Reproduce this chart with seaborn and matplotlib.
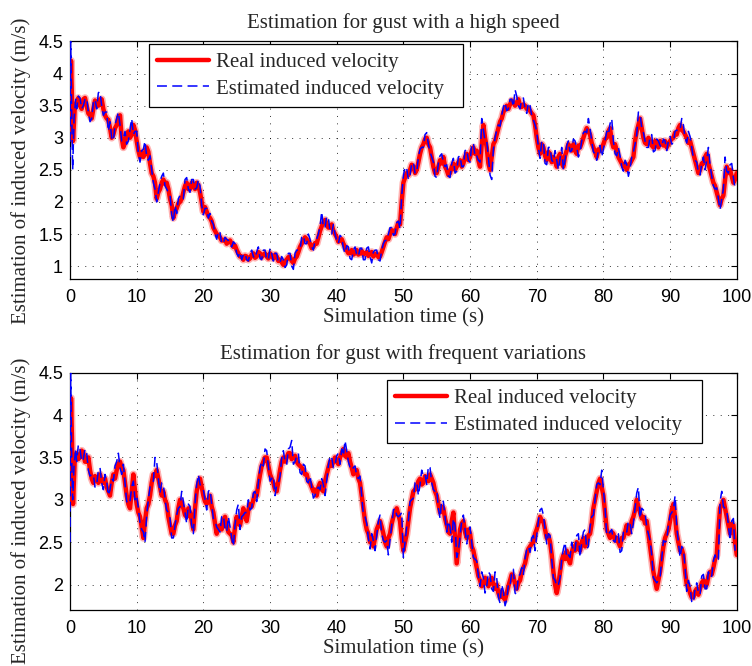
import numpy as np
import pandas as pd
import matplotlib
matplotlib.use("Agg")
import matplotlib.pyplot as plt
import seaborn as sns

# ---------------- data ----------------
# Gust with a high speed: real induced velocity (m/s)
hs_real_t_head = [0.0, 0.15, 0.3, 0.45, 0.7]
hs_real_head = [3.0, 4.2, 3.6, 2.95, 3.45]
# samples at t = 1.0, 1.5, ..., 100.0
hs_real_body = [
    3.55, 3.5, 3.6, 3.5, 3.35, 3.45, 3.55, 3.6, 3.45, 3.3,
    3.15, 3.05, 3.2, 3.35, 2.85, 3.05, 3.0, 3.2, 2.95, 2.7,
    2.7, 2.85, 2.6, 2.4, 2.05, 2.2, 2.35, 2.3, 2.05, 1.75,
    1.9, 2.0, 2.15, 2.3, 2.2, 2.25, 2.3, 2.15, 1.85, 1.85,
    1.75, 1.6, 1.5, 1.45, 1.4, 1.35, 1.4, 1.3, 1.25, 1.15,
    1.1, 1.15, 1.12, 1.2, 1.15, 1.2, 1.18, 1.15, 1.2, 1.12,
    1.15, 1.1, 1.02, 1.1, 1.15, 1.05, 1.15, 1.3, 1.4, 1.42,
    1.35, 1.3, 1.35, 1.55, 1.68, 1.65, 1.6, 1.55, 1.45, 1.4,
    1.35, 1.25, 1.2, 1.18, 1.25, 1.2, 1.18, 1.22, 1.2, 1.15,
    1.2, 1.15, 1.3, 1.45, 1.5, 1.55, 1.6, 1.65, 2.3, 2.45,
    2.5, 2.55, 2.5, 2.75, 2.9, 3.0, 2.85, 2.55, 2.45, 2.65,
    2.7, 2.5, 2.45, 2.6, 2.55, 2.65, 2.6, 2.75, 2.7, 2.85,
    2.8, 2.55, 3.2, 2.85, 2.5, 2.9, 3.05, 3.25, 3.4, 3.5,
    3.52, 3.55, 3.55, 3.5, 3.52, 3.45, 3.42, 3.35, 3.0, 2.75,
    2.85, 2.65, 2.75, 2.7, 2.55, 2.75, 2.55, 2.8, 2.85, 2.9,
    2.75, 2.85, 3.0, 3.15, 3.05, 2.85, 2.7, 2.8, 2.9, 3.0,
    3.15, 2.85, 2.8, 2.65, 2.55, 2.5, 2.6, 2.7, 3.1, 3.3,
    3.0, 2.9, 2.95, 2.85, 2.9, 2.95, 2.88, 2.85, 2.95, 3.0,
    3.05, 3.2, 3.1, 3.0, 2.95, 2.75, 2.55, 2.5, 2.6, 2.75,
    2.5, 2.3, 2.15, 1.95, 2.1, 2.55, 2.5, 2.3, 2.45,
]
# samples at t = 1.25, 1.75, ..., 99.75
hs_real_mid = [
    3.62, 3.45, 3.62, 3.38, 3.3, 3.58, 3.5, 3.6, 3.35, 3.28,
    3.0, 3.15, 3.32, 3.0, 2.92, 3.1, 3.05, 3.12, 2.8, 2.78,
    2.75, 2.78, 2.45, 2.3, 2.15, 2.3, 2.28, 2.2, 1.95, 1.85,
    1.98, 2.05, 2.25, 2.2, 2.3, 2.2, 2.25, 2.0, 1.92, 1.78,
    1.7, 1.55, 1.48, 1.4, 1.42, 1.38, 1.35, 1.32, 1.2, 1.15,
    1.16, 1.1, 1.18, 1.13, 1.22, 1.14, 1.2, 1.12, 1.16, 1.18,
    1.08, 1.06, 1.08, 1.14, 1.08, 1.12, 1.22, 1.35, 1.45, 1.38,
    1.28, 1.36, 1.45, 1.62, 1.72, 1.6, 1.65, 1.5, 1.38, 1.42,
    1.3, 1.2, 1.25, 1.2, 1.18, 1.24, 1.2, 1.16, 1.22, 1.18,
    1.14, 1.22, 1.38, 1.42, 1.56, 1.5, 1.68, 2.0, 2.38, 2.42,
    2.58, 2.45, 2.62, 2.85, 2.98, 2.9, 2.7, 2.45, 2.55, 2.6,
    2.55, 2.42, 2.55, 2.5, 2.62, 2.55, 2.7, 2.65, 2.8, 2.75,
    2.65, 2.9, 3.0, 2.6, 2.7, 2.95, 3.15, 3.3, 3.45, 3.45,
    3.58, 3.5, 3.6, 3.48, 3.5, 3.46, 3.38, 3.2, 2.85, 2.9,
    2.72, 2.78, 2.62, 2.65, 2.7, 2.6, 2.72, 2.9, 2.8, 2.8,
    2.88, 2.92, 3.08, 3.1, 2.92, 2.78, 2.82, 2.85, 2.98, 3.1,
    2.95, 2.9, 2.7, 2.6, 2.6, 2.58, 2.65, 2.95, 3.2, 3.15,
    2.92, 3.0, 2.88, 2.95, 2.85, 2.92, 2.95, 2.9, 2.98, 3.08,
    3.15, 3.12, 3.05, 2.92, 2.85, 2.65, 2.45, 2.6, 2.7, 2.6,
    2.4, 2.25, 2.05, 2.05, 2.35, 2.45, 2.4, 2.35,
]
# Gust with a high speed: estimated induced velocity (m/s)
hs_est_t_head = [0.0, 0.1, 0.25, 0.4, 0.6, 0.85]
hs_est_head = [2.7, 4.5, 3.4, 2.5, 3.3, 3.6]
# samples at t = 1.25, 1.75, ..., 99.75
hs_est_body = [
    3.65, 3.45, 3.6, 3.4, 3.3, 3.6, 3.7, 3.5, 3.4, 3.1,
    3.0, 3.2, 3.4, 2.95, 3.1, 2.95, 3.3, 3.1, 2.75, 2.8,
    2.95, 2.65, 2.5, 2.2, 2.15, 2.4, 2.25, 2.15, 1.8, 1.95,
    2.05, 2.1, 2.35, 2.2, 2.35, 2.2, 2.35, 1.95, 1.9, 1.75,
    1.7, 1.5, 1.55, 1.35, 1.45, 1.4, 1.3, 1.35, 1.15, 1.1,
    1.2, 1.08, 1.25, 1.12, 1.3, 1.1, 1.25, 1.1, 1.2, 1.2,
    1.05, 1.15, 0.98, 1.2, 1.0, 1.2, 1.25, 1.45, 1.35, 1.5,
    1.3, 1.4, 1.5, 1.85, 1.6, 1.75, 1.5, 1.5, 1.35, 1.45,
    1.2, 1.3, 1.1, 1.3, 1.15, 1.28, 1.1, 1.3, 1.05, 1.25,
    1.1, 1.25, 1.4, 1.5, 1.6, 1.5, 1.7, 2.1, 2.55, 2.35,
    2.6, 2.45, 2.7, 2.85, 3.05, 2.9, 2.7, 2.4, 2.6, 2.75,
    2.55, 2.4, 2.6, 2.45, 2.7, 2.55, 2.8, 2.65, 2.9, 2.7,
    2.65, 3.3, 2.95, 2.7, 2.35, 3.0, 3.2, 3.35, 3.55, 3.45,
    3.6, 3.75, 3.5, 3.6, 3.45, 3.55, 3.35, 3.2, 2.85, 2.95,
    2.6, 2.85, 2.65, 2.8, 2.5, 2.85, 2.65, 2.95, 2.8, 2.95,
    2.7, 2.95, 3.1, 3.3, 2.95, 2.75, 2.8, 2.7, 2.95, 3.05,
    3.3, 2.75, 2.85, 2.55, 2.65, 2.4, 2.7, 2.9, 3.4, 3.15,
    2.95, 2.85, 3.05, 2.8, 2.95, 2.85, 2.95, 2.95, 2.9, 3.1,
    3.1, 3.3, 3.0, 3.1, 2.85, 2.65, 2.45, 2.6, 2.5, 2.85,
    2.4, 2.2, 2.05, 2.05, 2.7, 2.45, 2.6, 2.2,
]
# samples at t = 1.0, 1.5, ..., 99.5
hs_est_mid = [
    3.45, 3.62, 3.5, 3.62, 3.25, 3.55, 3.45, 3.72, 3.35, 3.4,
    3.25, 2.95, 3.3, 3.2, 2.98, 2.9, 3.12, 3.05, 3.1, 2.62,
    2.82, 2.7, 2.72, 2.3, 2.0, 2.3, 2.45, 2.2, 2.12, 1.68,
    1.82, 2.1, 2.05, 2.38, 2.15, 2.35, 2.22, 2.25, 1.8, 1.9,
    1.82, 1.65, 1.42, 1.52, 1.35, 1.42, 1.33, 1.38, 1.2, 1.22,
    1.18, 1.1, 1.2, 1.15, 1.22, 1.12, 1.25, 1.1, 1.28, 1.08,
    1.2, 1.05, 1.1, 1.02, 1.2, 0.95, 1.25, 1.25, 1.48, 1.35,
    1.42, 1.25, 1.42, 1.62, 1.6, 1.78, 1.55, 1.65, 1.4, 1.48,
    1.28, 1.32, 1.12, 1.25, 1.18, 1.28, 1.1, 1.28, 1.15, 1.22,
    1.25, 1.08, 1.35, 1.4, 1.6, 1.48, 1.68, 1.58, 2.4, 2.52,
    2.42, 2.62, 2.45, 2.82, 2.85, 3.08, 2.78, 2.62, 2.38, 2.72,
    2.62, 2.58, 2.38, 2.68, 2.48, 2.72, 2.55, 2.82, 2.62, 2.92,
    2.72, 2.62, 3.12, 2.95, 2.42, 2.82, 3.12, 3.18, 3.48, 3.42,
    3.6, 3.48, 3.65, 3.45, 3.62, 3.38, 3.5, 3.28, 3.1, 2.68,
    2.95, 2.58, 2.85, 2.62, 2.65, 2.68, 2.5, 2.88, 2.78, 2.98,
    2.85, 2.78, 3.08, 3.08, 3.15, 2.78, 2.65, 2.88, 2.82, 3.1,
    3.22, 2.95, 2.72, 2.72, 2.48, 2.58, 2.52, 2.78, 3.05, 3.38,
    3.08, 2.85, 3.02, 2.78, 2.98, 2.88, 2.98, 2.8, 3.02, 2.92,
    3.12, 3.12, 3.2, 2.92, 3.02, 2.68, 2.62, 2.42, 2.7, 2.65,
    2.58, 2.25, 2.22, 1.88, 2.2, 2.48, 2.58, 2.38,
]

# Gust with frequent variations: real induced velocity (m/s)
fv_real_t_head = [0.0, 0.15, 0.3, 0.45, 0.7]
fv_real_head = [3.0, 4.2, 3.7, 2.95, 3.45]
# samples at t = 1.0, 1.5, ..., 100.0
fv_real_body = [
    3.55, 3.5, 3.55, 3.45, 3.35, 3.2, 3.25, 3.3, 3.2, 3.15,
    3.05, 3.3, 3.35, 3.45, 3.35, 3.05, 2.9, 3.3, 2.95, 2.8,
    2.55, 2.9, 3.05, 3.3, 3.35, 3.15, 3.1, 2.95, 2.7, 2.6,
    2.75, 3.0, 2.9, 2.8, 2.85, 2.65, 3.1, 3.25, 3.05, 2.95,
    3.05, 2.85, 2.6, 2.7, 2.75, 2.7, 2.6, 2.5, 2.8, 2.7,
    2.9, 2.75, 2.95, 3.0, 3.05, 3.3, 3.45, 3.5, 3.3, 3.2,
    3.1, 3.35, 3.5, 3.5, 3.55, 3.5, 3.45, 3.4, 3.35, 3.3,
    3.2, 3.1, 3.05, 3.2, 3.1, 3.3, 3.45, 3.45, 3.45, 3.5,
    3.6, 3.5, 3.45, 3.3, 3.35, 3.2, 2.9, 2.65, 2.5, 2.45,
    2.65, 2.75, 2.6, 2.45, 2.6, 2.8, 2.9, 2.75, 2.4, 2.6,
    2.9, 3.1, 3.15, 3.25, 3.2, 3.25, 3.3, 3.2, 3.05, 2.85,
    2.9, 2.7, 2.6, 2.85, 2.25, 2.65, 2.75, 2.55, 2.6, 2.4,
    2.2, 2.05, 2.0, 2.05, 2.05, 2.0, 2.0, 1.85, 1.85, 1.9,
    2.05, 2.1, 1.95, 2.05, 2.2, 2.35, 2.45, 2.5, 2.65, 2.8,
    2.75, 2.55, 2.5, 2.15, 1.9, 2.15, 2.35, 2.4, 2.25, 2.45,
    2.5, 2.4, 2.55, 2.5, 2.6, 2.9, 3.1, 3.25, 3.05, 2.65,
    2.55, 2.6, 2.55, 2.45, 2.55, 2.7, 2.65, 2.8, 3.0, 2.85,
    2.8, 2.75, 2.45, 2.15, 1.95, 2.15, 2.45, 2.6, 2.75, 2.95,
    2.6, 2.4, 2.35, 2.0, 1.9, 1.85, 1.95, 1.95, 2.05, 2.0,
    2.15, 2.2, 2.35, 2.9, 3.0, 2.8, 2.6, 2.7, 2.35,
]
# samples at t = 1.25, 1.75, ..., 99.75
fv_real_mid = [
    3.48, 3.58, 3.45, 3.5, 3.25, 3.28, 3.2, 3.22, 3.25, 3.1,
    3.2, 3.25, 3.42, 3.38, 3.2, 2.95, 3.1, 3.1, 2.85, 2.68,
    2.75, 2.95, 3.2, 3.28, 3.25, 3.05, 3.0, 2.8, 2.6, 2.7,
    2.9, 2.95, 2.82, 2.9, 2.75, 2.9, 3.2, 3.15, 2.98, 3.0,
    2.92, 2.72, 2.68, 2.65, 2.8, 2.62, 2.58, 2.68, 2.72, 2.8,
    2.82, 2.88, 2.92, 3.08, 3.18, 3.4, 3.5, 3.4, 3.25, 3.12,
    3.22, 3.45, 3.45, 3.55, 3.48, 3.52, 3.42, 3.38, 3.3, 3.22,
    3.15, 3.12, 3.15, 3.12, 3.22, 3.38, 3.4, 3.5, 3.42, 3.55,
    3.52, 3.55, 3.38, 3.35, 3.25, 3.05, 2.75, 2.6, 2.55, 2.55,
    2.7, 2.68, 2.5, 2.55, 2.72, 2.85, 2.82, 2.55, 2.5, 2.75,
    3.0, 3.12, 3.22, 3.18, 3.28, 3.22, 3.25, 3.1, 2.95, 2.92,
    2.78, 2.62, 2.75, 2.55, 2.45, 2.72, 2.62, 2.65, 2.45, 2.3,
    2.1, 1.98, 2.08, 1.98, 2.08, 1.95, 1.9, 1.92, 1.82, 1.98,
    2.12, 2.0, 2.02, 2.15, 2.25, 2.42, 2.48, 2.6, 2.72, 2.75,
    2.65, 2.58, 2.35, 2.0, 2.0, 2.28, 2.3, 2.3, 2.38, 2.4,
    2.42, 2.5, 2.45, 2.58, 2.72, 3.0, 3.2, 3.15, 2.85, 2.6,
    2.62, 2.52, 2.5, 2.55, 2.62, 2.6, 2.75, 2.88, 2.92, 2.78,
    2.72, 2.6, 2.3, 2.05, 2.05, 2.3, 2.55, 2.65, 2.88, 2.8,
    2.5, 2.42, 2.15, 1.98, 1.85, 1.92, 1.88, 2.02, 1.98, 2.1,
    2.12, 2.3, 2.65, 2.95, 2.9, 2.7, 2.72, 2.5,
]
# Gust with frequent variations: estimated induced velocity (m/s)
fv_est_t_head = [0.0, 0.1, 0.25, 0.4, 0.6, 0.85]
fv_est_head = [2.5, 4.5, 3.5, 3.0, 3.4, 3.6]
# samples at t = 1.25, 1.75, ..., 99.75
fv_est_body = [
    3.65, 3.45, 3.6, 3.35, 3.3, 3.15, 3.35, 3.2, 3.3, 3.05,
    3.25, 3.4, 3.55, 3.3, 3.2, 2.95, 3.15, 3.0, 2.9, 2.65,
    2.5, 3.0, 3.2, 3.5, 3.25, 3.2, 3.0, 2.85, 2.55, 2.7,
    2.9, 3.1, 2.85, 2.95, 2.7, 2.95, 3.3, 3.15, 3.0, 3.1,
    2.95, 2.75, 2.65, 2.8, 2.65, 2.8, 2.55, 2.7, 2.95, 2.8,
    2.85, 3.0, 2.9, 3.1, 3.2, 3.45, 3.6, 3.4, 3.25, 3.05,
    3.2, 3.5, 3.45, 3.6, 3.7, 3.45, 3.55, 3.3, 3.4, 3.2,
    3.15, 3.05, 3.15, 3.25, 3.05, 3.4, 3.5, 3.4, 3.55, 3.6,
    3.7, 3.45, 3.35, 3.4, 3.25, 3.05, 2.8, 2.55, 2.6, 2.4,
    2.75, 2.6, 2.5, 2.35, 2.7, 2.9, 2.8, 2.85, 2.5, 2.75,
    3.0, 3.2, 3.05, 3.35, 3.3, 3.4, 3.2, 3.1, 2.9, 3.0,
    2.8, 2.75, 2.5, 2.7, 2.4, 2.75, 2.65, 2.6, 2.5, 2.3,
    2.1, 2.15, 1.9, 2.15, 1.95, 2.15, 1.85, 2.0, 1.75, 2.0,
    2.15, 1.9, 2.1, 2.2, 2.3, 2.45, 2.55, 2.4, 2.75, 2.9,
    2.65, 2.6, 2.3, 2.05, 2.0, 2.3, 2.5, 2.35, 2.5, 2.4,
    2.6, 2.5, 2.65, 2.45, 2.8, 3.0, 3.2, 3.35, 2.9, 2.6,
    2.65, 2.5, 2.6, 2.4, 2.65, 2.75, 2.6, 2.9, 3.15, 2.9,
    2.85, 2.6, 2.35, 2.05, 2.05, 2.3, 2.5, 2.7, 2.85, 3.05,
    2.5, 2.45, 2.2, 2.05, 1.8, 1.95, 1.9, 2.1, 1.95, 2.15,
    2.1, 2.35, 2.3, 3.1, 2.9, 2.7, 2.75, 2.4,
]
# samples at t = 1.0, 1.5, ..., 99.5
fv_est_mid = [
    3.45, 3.6, 3.48, 3.55, 3.28, 3.3, 3.18, 3.38, 3.12, 3.22,
    3.12, 3.22, 3.45, 3.38, 3.42, 2.98, 2.98, 3.22, 3.05, 2.72,
    2.62, 2.82, 3.15, 3.22, 3.45, 3.08, 3.18, 2.88, 2.78, 2.55,
    2.82, 2.92, 2.98, 2.72, 2.92, 2.6, 3.18, 3.18, 3.12, 2.88,
    3.12, 2.78, 2.68, 2.62, 2.82, 2.62, 2.68, 2.45, 2.88, 2.65,
    2.82, 2.85, 2.88, 3.08, 2.98, 3.38, 3.4, 3.58, 3.22, 3.28,
    3.18, 3.28, 3.58, 3.42, 3.62, 3.42, 3.52, 3.32, 3.42, 3.22,
    3.28, 3.02, 3.12, 3.12, 3.18, 3.22, 3.52, 3.38, 3.52, 3.42,
    3.52, 3.58, 3.38, 3.38, 3.28, 3.28, 2.82, 2.72, 2.42, 2.52,
    2.58, 2.82, 2.52, 2.52, 2.52, 2.88, 2.82, 2.82, 2.32, 2.68,
    2.98, 3.02, 3.22, 3.18, 3.28, 3.18, 3.38, 3.12, 3.12, 2.78,
    2.98, 2.62, 2.68, 2.78, 2.32, 2.58, 2.82, 2.48, 2.68, 2.32,
    2.28, 1.98, 2.08, 1.98, 2.12, 1.92, 2.08, 1.78, 1.92, 1.82,
    1.98, 2.18, 1.88, 2.12, 2.12, 2.42, 2.38, 2.58, 2.58, 2.88,
    2.82, 2.48, 2.58, 2.08, 1.98, 2.08, 2.42, 2.32, 2.32, 2.38,
    2.58, 2.32, 2.62, 2.42, 2.68, 2.82, 3.18, 3.18, 3.12, 2.58,
    2.62, 2.52, 2.62, 2.38, 2.62, 2.62, 2.72, 2.72, 3.08, 2.78,
    2.88, 2.68, 2.52, 2.08, 2.02, 2.08, 2.52, 2.52, 2.82, 2.88,
    2.68, 2.32, 2.42, 1.92, 1.98, 1.78, 2.02, 1.88, 2.12, 1.95,
    2.08, 2.28, 2.28, 2.98, 2.92, 2.88, 2.52, 2.78,
]

titles = ["Estimation for gust with a high speed",
          "Estimation for gust with frequent variations"]
x_ticks = [0, 10, 20, 30, 40, 50, 60, 70, 80, 90, 100]
y_ticks_top = [1, 1.5, 2, 2.5, 3, 3.5, 4, 4.5]
y_ticks_bottom = [2, 2.5, 3, 3.5, 4, 4.5]
label_real = "Real induced velocity"
label_est = "Estimated induced velocity"


def series(parts):
    """Join (start times | start offset, values) pieces into one sorted frame."""
    ts, vs = [], []
    for start, values in parts:
        if np.ndim(start) == 0:
            t = start + 0.5 * np.arange(len(values))
        else:
            t = np.asarray(start, dtype=float)
        ts.append(t)
        vs.append(np.asarray(values, dtype=float))
    df = pd.DataFrame({"t": np.concatenate(ts), "v": np.concatenate(vs)})
    return df.sort_values("t").reset_index(drop=True)


# ---------------- figure ----------------
sns.set_theme(style="white")
plt.rcParams["font.family"] = ["Liberation Serif", "DejaVu Serif"]
plt.rcParams["axes.edgecolor"] = "black"
plt.rcParams["axes.linewidth"] = 0.9

fig = plt.figure(figsize=(7.52, 6.66), dpi=100)
ax_top = fig.add_axes([0.0931, 0.5811, 0.8866, 0.3566])
ax_bot = fig.add_axes([0.0931, 0.0841, 0.8866, 0.3563])

panels = [
    (ax_top,
     series([(hs_real_t_head, hs_real_head), (1.0, hs_real_body),
             (1.25, hs_real_mid)]),
     series([(hs_est_t_head, hs_est_head), (1.25, hs_est_body),
             (1.0, hs_est_mid)]),
     (0.8, 4.5), y_ticks_top, titles[0], 0.455,
     (0.1184, 0.0, 0.4708, 0.9895)),
    (ax_bot,
     series([(fv_real_t_head, fv_real_head), (1.0, fv_real_body),
             (1.25, fv_real_mid)]),
     series([(fv_est_t_head, fv_est_head), (1.25, fv_est_body),
             (1.0, fv_est_mid)]),
     (1.7, 4.5), y_ticks_bottom, titles[1], 0.42,
     (0.4753, 0.0, 0.4723, 0.9692)),
]

for ax, real, est, ylim, yticks, title, ylab_y, leg_box in panels:
    # soft halo under the real-velocity trace
    sns.lineplot(data=real, x="t", y="v", ax=ax, color="#ff0000",
                 linewidth=5.5, alpha=0.3, estimator=None, zorder=2,
                 legend=False)
    sns.lineplot(data=real, x="t", y="v", ax=ax, color="#ff0000",
                 linewidth=3.2, label=label_real, estimator=None, zorder=3)
    sns.lineplot(data=est, x="t", y="v", ax=ax, color="#0000ff",
                 linewidth=1.1, linestyle=(0, (6.5, 3.5)), label=label_est,
                 estimator=None, zorder=4)
    ax.set_xlim(0, 100)
    ax.set_ylim(*ylim)
    ax.set_xticks(x_ticks)
    ax.set_yticks(yticks)
    ax.set_xticklabels([str(v) for v in x_ticks])
    ax.set_yticklabels([f"{v:g}" for v in yticks])
    for lab in ax.get_xticklabels() + ax.get_yticklabels():
        lab.set_fontfamily(["Liberation Sans", "DejaVu Sans"])
        lab.set_fontsize(13)
    ax.tick_params(direction="in", top=True, right=True, length=4,
                   width=0.8, colors="black")
    ax.tick_params(axis="x", pad=7)
    ax.tick_params(axis="y", pad=5)
    ax.grid(True, color="black", linewidth=0.7, linestyle=(0, (1, 6.6)),
            alpha=0.8)
    ax.set_axisbelow(True)
    for sp in ax.spines.values():
        sp.set_visible(True)
        sp.set_color("black")
    ax.set_title(title, fontsize=15, pad=10)
    ax.set_xlabel("Simulation time (s)", fontsize=15, labelpad=2)
    ax.set_ylabel("Estimation of induced velocity (m/s)", fontsize=15)
    ax.yaxis.set_label_coords(-0.058, ylab_y)
    leg = ax.legend(fontsize=15, frameon=True, fancybox=False,
                    edgecolor="black", framealpha=1, handlelength=2.5,
                    borderpad=0.4, labelspacing=0.35, handletextpad=0.3,
                    borderaxespad=0, loc="upper left",
                    bbox_to_anchor=leg_box, mode="expand")
    leg.get_frame().set_linewidth(0.9)

fig.savefig("out.png", dpi=100)
